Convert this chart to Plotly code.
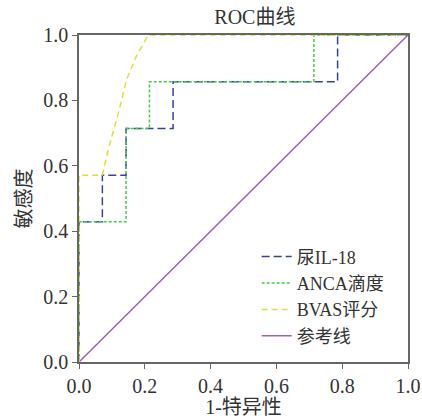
import plotly.graph_objects as go

# 尿IL-18 ROC (1-specificity, sensitivity)
il18_fpr = [0, 0, 0.071, 0.071, 0.143, 0.143, 0.286, 0.286, 0.786, 0.786, 1.0]
il18_tpr = [0, 0.429, 0.429, 0.571, 0.571, 0.714, 0.714, 0.857, 0.857, 1.0, 1.0]

# ANCA滴度 ROC
anca_fpr = [0, 0, 0.143, 0.143, 0.214, 0.214, 0.714, 0.714, 1.0]
anca_tpr = [0, 0.429, 0.429, 0.714, 0.714, 0.857, 0.857, 1.0, 1.0]

# BVAS评分 ROC
bvas_fpr = [0, 0, 0.071, 0.089, 0.120, 0.145, 0.175, 0.211, 1.0]
bvas_tpr = [0, 0.571, 0.571, 0.650, 0.763, 0.865, 0.937, 1.0, 1.0]

# 参考线
ref_x = [0, 1]
ref_y = [0, 1]

tick_vals = [0, 0.2, 0.4, 0.6, 0.8, 1.0]
tick_text = ["0.0", "0.2", "0.4", "0.6", "0.8", "1.0"]

FONT = "Liberation Serif, Times New Roman, Noto Sans CJK SC, serif"

fig = go.Figure()
fig.add_trace(go.Scatter(x=ref_x, y=ref_y, mode="lines", name="参考线",
                         line=dict(color="#9a5fc0", width=1.5), legendrank=4))
fig.add_trace(go.Scatter(x=il18_fpr, y=il18_tpr, mode="lines", name="尿IL-18",
                         line=dict(color="#3a3fa8", width=1.5, dash="8px,4px"), legendrank=1))
fig.add_trace(go.Scatter(x=anca_fpr, y=anca_tpr, mode="lines", name="ANCA滴度",
                         line=dict(color="#44cc44", width=1.5, dash="3px,2px"), legendrank=2))
fig.add_trace(go.Scatter(x=bvas_fpr, y=bvas_tpr, mode="lines", name="BVAS评分",
                         line=dict(color="#dfe040", width=1.5, dash="6px,4px"), legendrank=3))

axis_common = dict(
    range=[0, 1], tickvals=tick_vals, ticktext=tick_text, automargin=False,
    showgrid=False, zeroline=False, showline=True, linecolor="#666666", linewidth=1.5,
    mirror=True, ticks="outside", ticklen=5, tickcolor="#666666", tickwidth=1.2,
    tickfont=dict(family=FONT, size=20, color="#333333"),
)

fig.update_layout(
    width=422, height=418,
    margin=dict(l=79, r=14, t=35, b=56),
    paper_bgcolor="white", plot_bgcolor="white",
    title=dict(text="ROC曲线", x=0.604, xanchor="center", y=0.959, yanchor="middle",
               automargin=False,
               font=dict(family=FONT, size=20, color="#333333")),
    xaxis=dict(axis_common, title=dict(text="1-特异性", standoff=0,
                                       font=dict(family=FONT, size=20, color="#333333"))),
    yaxis=dict(axis_common, title=dict(text="敏感度", standoff=6,
                                       font=dict(family=FONT, size=20, color="#333333"))),
    legend=dict(x=0.54, y=0.378, xanchor="left", yanchor="top",
                bgcolor="rgba(0,0,0,0)", font=dict(family=FONT, size=18, color="#333333"),
                tracegroupgap=0, itemwidth=30),
    showlegend=True,
)

fig.write_html("out.html", config={"displayModeBar": False},
               post_script="document.body.style.margin='0px';")
